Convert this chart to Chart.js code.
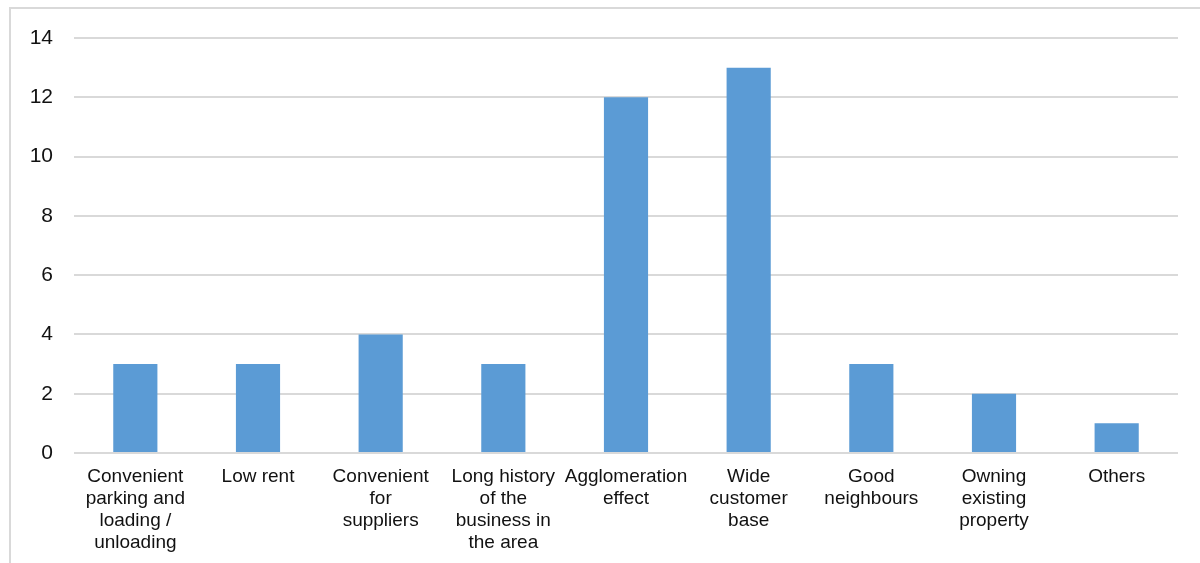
<!DOCTYPE html>
<html>
<head>
<meta charset="utf-8">
<script src="https://cdn.jsdelivr.net/npm/chart.js@4"></script>
<style>
  html, body { margin: 0; padding: 0; background: #fff; }
  #wrap { position: relative; width: 1200px; height: 563px; }
</style>
</head>
<body>
<div id="wrap"><canvas id="barChart" width="1200" height="563"></canvas></div>
<script>
const categories = [
  ["Convenient", "parking and", "loading /", "unloading"],
  "Low rent",
  ["Convenient", "for", "suppliers"],
  ["Long history", "of the", "business in", "the area"],
  ["Agglomeration", "effect"],
  ["Wide", "customer", "base"],
  ["Good", "neighbours"],
  ["Owning", "existing", "property"],
  "Others",
];
const counts = [3, 3, 4, 3, 12, 13, 3, 2, 1];
const yTicks = [0, 2, 4, 6, 8, 10, 12, 14];

// light frame around the whole chart (right/bottom run off the page)
const framePlugin = {
  id: "frame",
  beforeDraw(chart) {
    const ctx = chart.ctx;
    ctx.save();
    ctx.strokeStyle = "#d9d9d9";
    ctx.lineWidth = 2;
    ctx.strokeRect(10, 8, 1300, 700);
    ctx.restore();
  },
};

document.addEventListener("DOMContentLoaded", () => {
  const ctx = document.getElementById("barChart").getContext("2d");
  new Chart(ctx, {
    type: "bar",
    data: {
      labels: categories,
      datasets: [
        {
          data: counts,
          backgroundColor: "#5b9bd5",
          borderWidth: 0,
          categoryPercentage: 1,
          barPercentage: 0.36,
        },
      ],
    },
    options: {
      responsive: false,
      animation: false,
      layout: { padding: { top: 38, right: 22, left: 0, bottom: 0 } },
      plugins: { legend: { display: false }, tooltip: { enabled: false } },
      scales: {
        x: {
          grid: { display: false },
          border: { display: false },
          ticks: {
            color: "#111",
            font: { family: "Liberation Sans, Arial", size: 19, lineHeight: 1.15 },
            padding: 5,
            maxRotation: 0,
            autoSkip: false,
          },
          afterFit(scale) { scale.height = 110; },
        },
        y: {
          min: 0,
          max: 14,
          afterBuildTicks(scale) { scale.ticks = yTicks.map(v => ({ value: v })); },
          grid: { color: "#d9d9d9", lineWidth: 2, drawTicks: false },
          border: { display: false },
          ticks: {
            color: "#111",
            font: { family: "Liberation Sans, Arial", size: 21 },
            padding: 21,
          },
          afterFit(scale) { scale.width = 74; },
        },
      },
    },
    plugins: [framePlugin],
  });
});
</script>
</body>
</html>
